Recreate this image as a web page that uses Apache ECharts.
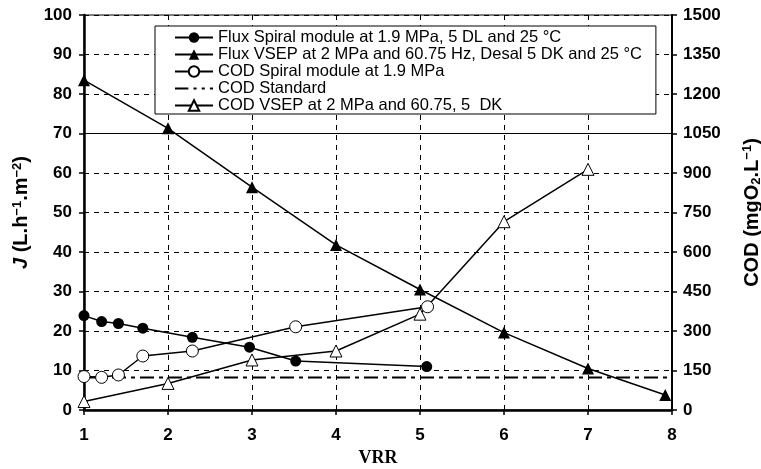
<!DOCTYPE html>
<html lang="en">
<head>
<meta charset="UTF-8">
<title>Flux and COD vs VRR</title>
<script src="https://cdn.jsdelivr.net/npm/echarts@6/dist/echarts.min.js"></script>
</head>
<body style="margin:0;background:#fff">
<div id="main" style="width:761px;height:469px;"></div>
<script>
// data
var fluxSpiralVRR = [1.0, 1.21, 1.41, 1.70, 2.29, 2.97, 3.52, 5.08];
var fluxSpiralJ = [23.9, 22.4, 21.9, 20.7, 18.4, 15.9, 12.4, 11.0];
var fluxVsepVRR = [1, 2, 3, 4, 5, 6, 7, 7.92];
var fluxVsepJ = [83.5, 71.3, 56.4, 41.8, 30.5, 19.6, 10.5, 3.8];
var codSpiralVRR = [1.0, 1.21, 1.41, 1.70, 2.29, 3.52, 5.09];
var codSpiralCOD = [127, 124, 133, 205, 224, 316, 392];
var codVsepVRR = [1, 2, 3, 4, 5, 6, 7];
var codVsepCOD = [32, 101, 190, 224, 364, 715, 914];
var codStandardVRR = [1, 8];
var codStandardCOD = [123, 123];

var seriesNames = [
    'Flux Spiral module at 1.9 MPa, 5 DL and 25 °C',
    'Flux VSEP at 2 MPa and 60.75 Hz, Desal 5 DK and 25 °C',
    'COD Spiral module at 1.9 MPa',
    'COD Standard',
    'COD VSEP at 2 MPa and 60.75, 5  DK'
];

function pairs(xs, ys) {
    var out = [];
    for (var i = 0; i < xs.length; i++) out.push([xs[i], ys[i]]);
    return out;
}

var font = 'Liberation Sans, Arial, sans-serif';
var tickLabel = {color: '#000', fontFamily: font, fontWeight: 'bold', fontSize: 17};
var supStyle = {fontSize: 13, fontWeight: 'bold', fontFamily: font, color: '#000', lineHeight: 13, verticalAlign: 'top'};
var subStyle = {fontSize: 13, fontWeight: 'bold', fontFamily: font, color: '#000', lineHeight: 13, verticalAlign: 'bottom'};
// long dash then three short dashes, as in the legend of the figure
var dashDotIcon = 'path://M0,0h13v2h-13z M18,0h3v2h-3z M26,0h3v2h-3z M34,0h3v2h-3z';

var chart = echarts.init(document.getElementById('main'));

var option = {
    backgroundColor: '#fff',
    animation: false,
    grid: {
        left: 84, right: 89, top: 15, bottom: 59,
        outerBoundsMode: 'none',
        show: true, borderColor: '#000', borderWidth: 1
    },
    legend: {
        orient: 'vertical',
        left: 155,
        top: 26,
        padding: [3, 14, 0, 19],
        borderColor: '#000',
        borderWidth: 1,
        backgroundColor: '#fff',
        itemWidth: 38,
        itemHeight: 13,
        itemGap: 0,
        textStyle: {fontFamily: font, fontSize: 16.5, color: '#000', lineHeight: 16},
        data: [
            {name: seriesNames[0]},
            {name: seriesNames[1]},
            {name: seriesNames[2]},
            {name: seriesNames[3], icon: dashDotIcon},
            {name: seriesNames[4]}
        ]
    },
    xAxis: {
        type: 'value',
        min: 1, max: 8, interval: 1,
        name: 'VRR',
        nameLocation: 'middle',
        nameGap: 38,
        nameTextStyle: {fontFamily: 'Liberation Serif, Times New Roman, serif', fontWeight: 'bold', fontSize: 18, color: '#000'},
        axisLine: {lineStyle: {color: '#000', width: 2.5}},
        axisTick: {length: 5, lineStyle: {color: '#000', width: 1.5}},
        axisLabel: Object.assign({margin: 17}, tickLabel),
        splitLine: {show: true, lineStyle: {color: '#000', type: [5, 5], width: 1}}
    },
    yAxis: [{
        type: 'value',
        min: 0, max: 100, interval: 10,
        position: 'left',
        name: '{i|J} (L.h{s|−1}.m{s|−2})',
        nameLocation: 'middle',
        nameRotate: 90,
        nameGap: 51,
        nameTextStyle: {
            fontFamily: font, fontWeight: 'bold', fontSize: 20, color: '#000', lineHeight: 22,
            rich: {
                i: {fontFamily: font, fontWeight: 'bold', fontStyle: 'italic', fontSize: 20, color: '#000', lineHeight: 22},
                s: supStyle
            }
        },
        axisLine: {show: true, lineStyle: {color: '#000', width: 2.5}},
        axisTick: {show: true, length: 5, lineStyle: {color: '#000', width: 1.5}},
        axisLabel: Object.assign({margin: 12}, tickLabel),
        splitLine: {show: true, lineStyle: {color: '#000', type: [5, 5], width: 1}}
    }, {
        type: 'value',
        min: 0, max: 1500, interval: 150,
        position: 'right',
        name: 'COD (mgO{b|2}.L{s|−1})',
        nameLocation: 'middle',
        nameRotate: 90,
        nameGap: 69,
        nameTextStyle: {
            fontFamily: font, fontWeight: 'bold', fontSize: 20, color: '#000', lineHeight: 22,
            rich: {s: supStyle, b: subStyle}
        },
        axisLine: {show: true, lineStyle: {color: '#000', width: 2}},
        axisTick: {show: true, length: 5, lineStyle: {color: '#000', width: 1.5}},
        axisLabel: Object.assign({margin: 11, formatter: function (v) { return String(v); }}, tickLabel),
        splitLine: {show: false}
    }],
    series: [{
        name: seriesNames[0],
        type: 'line',
        yAxisIndex: 0,
        data: pairs(fluxSpiralVRR, fluxSpiralJ),
        symbol: 'circle',
        symbolSize: 11,
        clip: false,
        itemStyle: {color: '#000'},
        lineStyle: {color: '#000', width: 1.5},
        z: 5,
        markLine: {
            silent: true,
            symbol: 'none',
            label: {show: false},
            lineStyle: {color: '#000', type: 'solid', width: 1},
            data: [{yAxis: 70}]
        }
    }, {
        name: seriesNames[1],
        type: 'line',
        yAxisIndex: 0,
        data: pairs(fluxVsepVRR, fluxVsepJ),
        symbol: 'triangle',
        symbolSize: 12,
        clip: false,
        itemStyle: {color: '#000'},
        lineStyle: {color: '#000', width: 1.5},
        z: 5
    }, {
        name: seriesNames[2],
        type: 'line',
        yAxisIndex: 1,
        data: pairs(codSpiralVRR, codSpiralCOD),
        symbol: 'circle',
        symbolSize: 12,
        clip: false,
        itemStyle: {color: '#fff', borderColor: '#000', borderWidth: 1},
        lineStyle: {color: '#000', width: 1.5},
        z: 6
    }, {
        name: seriesNames[3],
        type: 'line',
        yAxisIndex: 1,
        data: pairs(codStandardVRR, codStandardCOD),
        symbol: 'none',
        clip: false,
        itemStyle: {color: '#000'},
        lineStyle: {color: '#000', width: 2, type: [14, 5, 4, 5]},
        z: 4
    }, {
        name: seriesNames[4],
        type: 'line',
        yAxisIndex: 1,
        data: pairs(codVsepVRR, codVsepCOD),
        symbol: 'triangle',
        symbolSize: 12,
        clip: false,
        itemStyle: {color: '#fff', borderColor: '#000', borderWidth: 1},
        lineStyle: {color: '#000', width: 1.5},
        z: 5
    }]
};

chart.setOption(option);
</script>
</body>
</html>
